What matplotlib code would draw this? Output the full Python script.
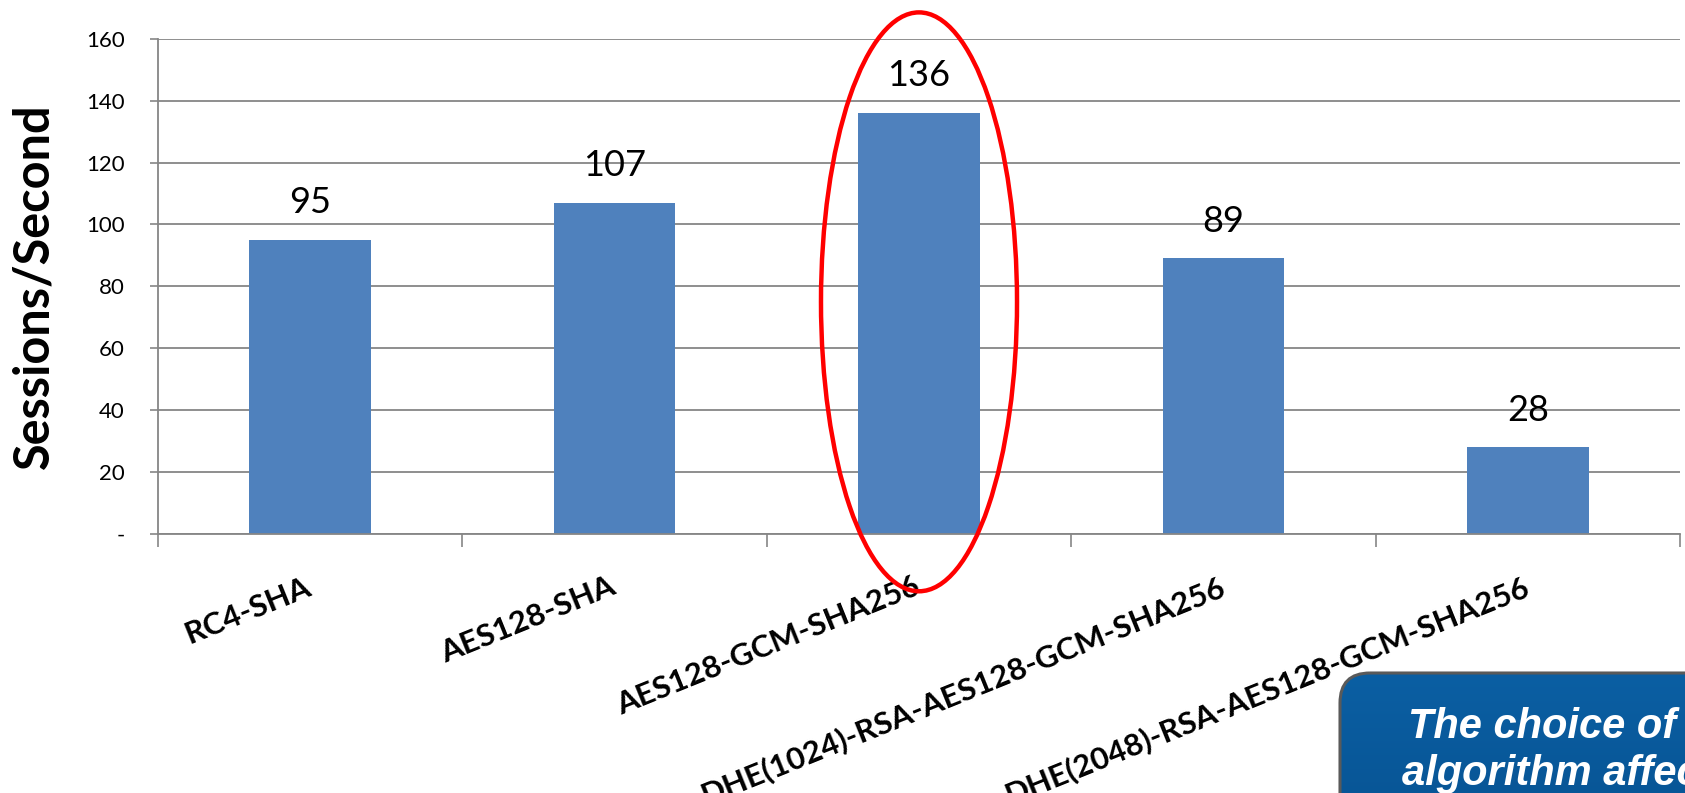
import numpy as np
import matplotlib
matplotlib.use("Agg")
import matplotlib.pyplot as plt
from matplotlib.colors import LinearSegmentedColormap
from matplotlib.patches import Ellipse, FancyBboxPatch

# Handshake throughput per cipher suite
suites = [
    "RC4-SHA",
    "AES128-SHA",
    "AES128-GCM-SHA256",
    "DHE(1024)-RSA-AES128-GCM-SHA256",
    "DHE(2048)-RSA-AES128-GCM-SHA256",
]
sessions_per_sec = [95, 107, 136, 89, 28]
highlight_idx = 2

y_ticks = [0, 20, 40, 60, 80, 100, 120, 140, 160]
y_tick_labels = ["-", "20", "40", "60", "80", "100", "120", "140", "160"]

callout_lines = ["The choice of cipher", "algorithm affects performance"]

W, H = 1685, 793
BAR_BLUE = "#4f81bd"
GRID_GREY = "#868686"
FONT = ["Lato", "DejaVu Sans"]

fig = plt.figure(figsize=(W / 100, H / 100), dpi=100)
ax = fig.add_axes([158 / W, 1 - 534 / H, (1680 - 158) / W, (534 - 38.7) / H])

x = np.arange(len(suites)) + 0.5
ax.bar(x, sessions_per_sec, width=0.4, color=BAR_BLUE, zorder=2)

for xi, v in zip(x, sessions_per_sec):
    ax.annotate(str(v), (xi, v), xytext=(0, 37), textcoords="offset pixels",
                ha="center", va="center", fontsize=26, family=FONT, color="black")

ax.set_xlim(0, len(suites))
ax.set_ylim(0, 160)
ax.set_yticks(y_ticks)
ax.set_yticklabels(y_tick_labels, family=FONT, fontsize=16)
ax.tick_params(axis="y", length=6, width=1.2, color=GRID_GREY, pad=18)

# category boundaries get tick marks, centres get the labels
ax.set_xticks(np.arange(len(suites) + 1))
ax.set_xticklabels([])
ax.tick_params(axis="x", which="major", length=9, width=1.2, color=GRID_GREY)
ax.set_xticks(x, minor=True)
ax.set_xticklabels(suites, minor=True, rotation=22, ha="right", va="center",
                   rotation_mode="anchor", family=FONT, fontsize=22.5, fontweight="bold")
ax.tick_params(axis="x", which="minor", length=0, pad=37)

ax.yaxis.grid(True, color=GRID_GREY, linewidth=1.3, zorder=0)
ax.set_axisbelow(True)
for side in ("top", "right"):
    ax.spines[side].set_visible(False)
for side in ("left", "bottom"):
    ax.spines[side].set_color(GRID_GREY)
    ax.spines[side].set_linewidth(1.3)

fig.text(34 / W, 1 - 286 / H, "Sessions/Second", rotation=90, ha="center", va="center",
         family=FONT, fontsize=35, fontweight="bold")

# red ring around the fastest suite
ring = Ellipse((x[highlight_idx], 75), width=0.644, height=187, fill=False,
               edgecolor="red", linewidth=3.2, clip_on=False, zorder=5)
ax.add_patch(ring)

# callout box, drawn in pixel coordinates
over = fig.add_axes([0, 0, 1, 1], zorder=10)
over.axis("off")
box = FancyBboxPatch((1340, 673), 500, 300, boxstyle="round,pad=0,rounding_size=30",
                     facecolor="none", edgecolor="#5a5a5a", linewidth=2.2, zorder=2)
over.add_patch(box)
shade = LinearSegmentedColormap.from_list("callout", ["#0b5fa3", "#034985"])
grad = np.linspace(0, 1, 256).reshape(-1, 1)
img = over.imshow(grad, extent=(1340, 1840, 973, 673), cmap=shade, aspect="auto", zorder=1)
img.set_clip_path(box)
over.set_xlim(0, W)
over.set_ylim(H, 0)

over.text(1408, 738, callout_lines[0], color="white", fontsize=30, fontweight="bold",
          fontstyle="italic", family="Liberation Sans", va="baseline", ha="left", zorder=3)
over.text(1402, 785, callout_lines[1], color="white", fontsize=30, fontweight="bold",
          fontstyle="italic", family="Liberation Sans", va="baseline", ha="left", zorder=3)

fig.savefig("out.png", dpi=100)
